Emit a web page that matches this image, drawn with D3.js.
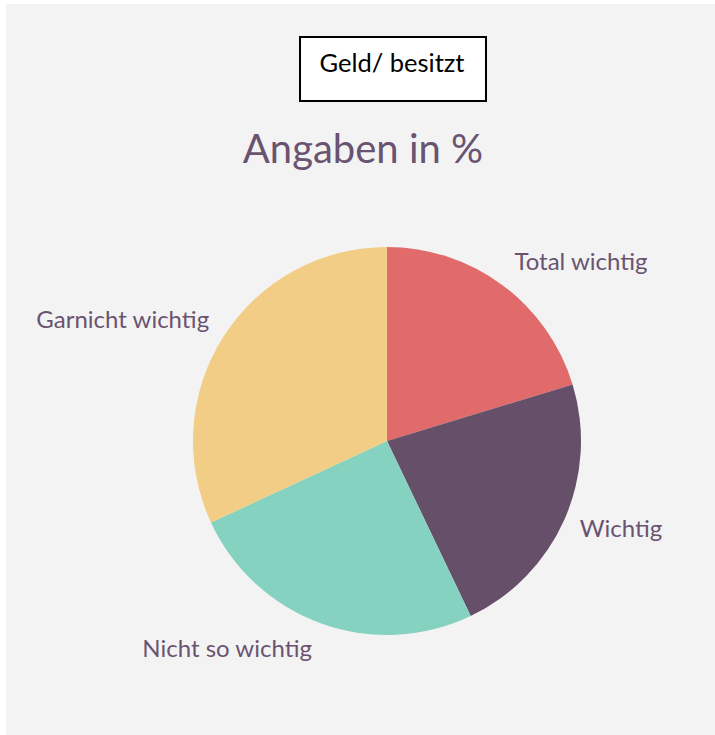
<!DOCTYPE html>
<html>
<head>
  <meta charset="utf-8">
  <script src="https://d3js.org/d3.v7.min.js"></script>
  <style>
    body { margin: 0; background: #fff; }
    svg { font-family: Lato, "Open Sans", sans-serif; display: block; }
    .label { fill: #6a5371; font-size: 24px; }
    .title { fill: #6a5371; font-size: 40px; }
    .boxtext { fill: #000; font-size: 25.5px; }
  </style>
</head>
<body>
  <svg width="715" height="735"></svg>

  <script>
    // Data (percent)
    const categories = ["Total wichtig", "Wichtig", "Nicht so wichtig", "Garnicht wichtig"];
    const values = [20.3, 22.6, 25.2, 31.9];
    const colors = ["#e06b6a", "#664f69", "#86d2c1", "#f2cd85"];

    const headerText = "Geld/ besitzt";
    const titleText = "Angaben in %";

    const data = categories.map((c, i) => ({ category: c, value: values[i] }));

    const svg = d3.select("svg");

    // Grey panel
    svg.append("rect")
      .attr("x", 6)
      .attr("y", 4)
      .attr("width", 709)
      .attr("height", 731)
      .attr("fill", "#f3f3f3");

    // Header box
    svg.append("rect")
      .attr("x", 300)
      .attr("y", 37)
      .attr("width", 186)
      .attr("height", 64)
      .attr("fill", "#fff")
      .attr("stroke", "#000")
      .attr("stroke-width", 2);

    svg.append("text")
      .attr("class", "boxtext")
      .attr("x", 392)
      .attr("y", 72)
      .attr("text-anchor", "middle")
      .text(headerText);

    // Title
    svg.append("text")
      .attr("class", "title")
      .attr("x", 363)
      .attr("y", 163)
      .attr("text-anchor", "middle")
      .text(titleText);

    // Pie
    const cx = 387, cy = 441, radius = 194;

    const color = d3.scaleOrdinal()
      .domain(categories)
      .range(colors);

    const pie = d3.pie()
      .sort(null)
      .value(d => d.value);

    const arc = d3.arc()
      .innerRadius(0)
      .outerRadius(radius);

    const arcs = pie(data);

    const g = svg.append("g")
      .attr("transform", `translate(${cx},${cy})`);

    g.selectAll("path")
      .data(arcs)
      .enter()
      .append("path")
      .attr("d", arc)
      .attr("fill", d => color(d.data.category));

    // Labels outside the slices, anchored to the side of the pie
    const labelRadius = radius + 10;

    g.selectAll(".label")
      .data(arcs)
      .enter()
      .append("text")
      .attr("class", "label")
      .each(function(d) {
        const a = (d.startAngle + d.endAngle) / 2;
        const s = Math.sin(a), c = Math.cos(a);
        const px = labelRadius * s;
        const py = -labelRadius * c;
        d3.select(this)
          .attr("x", px + (s >= 0 ? 6 : -6))
          .attr("y", py + 7 - 18 * c)
          .attr("text-anchor", s >= 0 ? "start" : "end");
      })
      .text(d => d.data.category);
  </script>
</body>
</html>
